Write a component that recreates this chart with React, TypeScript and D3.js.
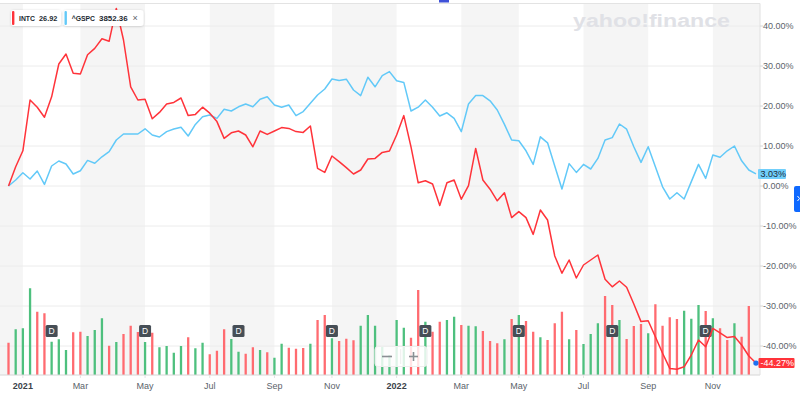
import * as d3 from 'd3'

// weekly bars, Monday of each week
const firstWeek = '2020-12-21'
const lastWeek = '2022-12-19'

// % change since first week
const intcChange = [
  0, 4.8, 8.8, 21.5, 19.7, 17.2, 22.3, 30.5, 33, 28.2,
  28.0, 32.8, 34.4, 36.8, 36.2, 44.4, 36.5, 24.8, 21.5, 21.7,
  16.8, 18.4, 20.5, 20.9, 22, 17.6, 17.9, 19.7, 18.2, 16.1,
  11.9, 13.3, 13.75, 12.75, 9.8, 13.75, 12.9, 13.75, 14.6, 14.4,
  13.6, 13.4, 15, 4.4, 3.4, 7.5, 6.1, 4.6, 3, 4,
  6.75, 6.9, 8.4, 8.75, 12.75, 17.6, 9.8, 0.8, 1.3, 0.5,
  -4.9, 0.8, 1.5, -3.3, 0.1, 9.4, 1.5, -0.8, -3.7, -1.7,
  -7.9, -6.4, -7.9, -12.1, -6, -8.5, -17.5, -21.8, -18.5, -23,
  -19.75, -18.5, -17.25, -23.3, -25.2, -23.75, -25.3, -29.5, -33.9, -33.7,
  -37.7, -41.8, -45.6, -45.8, -45.2, -42.25, -38.5, -40.2, -35.6, -36.7,
  -37.9, -37.6, -39.75, -42.5, -44.27
]

const gspcChange = [
  0, 1.5, 3.3, 1.75, 3.75, 0.4, 5, 6.25, 5.5, 3,
  3.8, 6.4, 5.7, 7.3, 8.6, 11.5, 13, 13, 13, 14.3,
  12.75, 12.25, 13.6, 14.25, 14.7, 12.5, 15.4, 17.3, 17.75, 16.9,
  19.2, 18.75, 19.8, 20.5, 19.8, 21.7, 22.3, 20.25, 19.7, 20.25,
  17.6, 18.6, 20.7, 22.75, 24.25, 26.75, 26.4, 26.7, 24, 22.6,
  27.2, 24.8, 27.6, 28.6, 26.3, 25.9, 18.75, 19.7, 21.5, 19.7,
  17.5, 18.3, 16.9, 13.6, 20.5, 22.6, 22.6, 21.3, 19, 15.4,
  11.5, 11.3, 8.8, 5.4, 12.3, 10.8, 5, -0.75, 5.6, 3.4,
  5.4, 4.25, 6.9, 11.5, 12.1, 15.5, 14.2, 9.8, 5.9, 9.8,
  4.8, -0.2, -3.25, -1.7, -3.25, 1.1, 5.4, 1.9, 7.75, 7.2,
  8.8, 10, 6.3, 4, 3.03
]

// INTC weekly volume, millions of shares
const intcVolume = [
  129, 183, 187, 347, 253, 247, 133, 143, 100, 171,
  173, 156, 180, 227, 117, 132, 164, 197, 172, 132,
  169, 111, 116, 89, 116, 151, 107, 129, 83, 97,
  183, 144, 93, 85, 111, 100, 91, 69, 125, 109,
  105, 108, 125, 220, 240, 147, 136, 145, 139, 197,
  240, 197, 116, 80, 220, 189, 149, 340, 213, 173,
  213, 220, 233, 200, 197, 195, 176, 136, 127, 143,
  224, 240, 216, 173, 151, 140, 207, 253, 143, 180,
  124, 164, 207, 316, 280, 220, 144, 196, 204, 167,
  283, 197, 231, 224, 257, 225, 280, 256, 227, 187,
  140, 207, 153, 276
]

const dividendDates = [
  '2021-02-05', '2021-05-06', '2021-08-05', '2021-11-05',
  '2022-02-04', '2022-05-05', '2022-08-04', '2022-11-04'
]

const tickDates = [
  '2020-11-02', '2021-01-04', '2021-03-01', '2021-05-03', '2021-07-05', '2021-09-06', '2021-11-01',
  '2022-01-03', '2022-03-07', '2022-05-02', '2022-07-04', '2022-09-05', '2022-11-07', '2023-01-02'
]
const tickLabels = ['', '2021', 'Mar', 'May', 'Jul', 'Sep', 'Nov', '2022', 'Mar', 'May', 'Jul', 'Sep', 'Nov', '2023']

const yTicks = [40, 30, 20, 10, 0, -10, -20, -30, -40]

const intcLabel = { symbol: 'INTC', price: '26.92' }
const gspcLabel = { symbol: '^GSPC', price: '3852.36' }

const RED = '#ff333a'
const BLUE = '#62c9f8'
const VOL_GREEN = '#4ec07e'
const VOL_RED = '#ff6b70'
const FONT = '"Liberation Sans", Arial, sans-serif'

export default function App() {
  const width = 800
  const height = 397
  const plotRight = 760
  const baseY = 375

  const parse = d3.timeParse('%Y-%m-%d')
  const weeks = d3.timeMonday.range(parse(firstWeek)!, d3.timeDay.offset(parse(lastWeek)!, 1))

  const x = d3.scaleTime()
    .domain([weeks[0], weeks[weeks.length - 1]])
    .range([8.5, 756])
  const y = d3.scaleLinear().domain([-40, 40]).range([346, 26])
  const yVol = d3.scaleLinear().domain([0, 400]).range([baseY, baseY - 100])

  const line = d3.line<number>()
    .x((_, i) => x(weeks[i]))
    .y(d => y(d))

  const ticks = tickDates.map((d, i) => ({ x: x(parse(d)!), label: tickLabels[i] }))
  // shaded every other two-month block
  const bands = ticks.slice(0, -1)
    .map((t, i) => ({ x0: t.x, x1: ticks[i + 1].x, on: i % 2 === 0 }))
    .filter(b => b.on)

  const lastIntc = intcChange[intcChange.length - 1]
  const lastGspc = gspcChange[gspcChange.length - 1]
  const lastX = x(weeks[weeks.length - 1])

  return (
    <div>
      <style>{`body{margin:0}`}</style>
      <svg width={width} height={height} style={{ display: 'block', fontFamily: FONT }}>
        <defs>
          <clipPath id="plot-clip">
            <rect x={0} y={0} width={plotRight} height={height} />
          </clipPath>
          <filter id="pill-shadow" x="-20%" y="-40%" width="140%" height="180%">
            <feDropShadow dx="0" dy="0.5" stdDeviation="0.8" floodColor="#000" floodOpacity="0.18" />
          </filter>
        </defs>

        <rect width={width} height={height} fill="#fff" />

        <g clipPath="url(#plot-clip)">
          {bands.map((b, i) => (
            <rect key={i} x={b.x0} y={3} width={b.x1 - b.x0} height={baseY - 3} fill="#f5f5f5" />
          ))}
          {yTicks.map(v => (
            <line key={v} x1={0} x2={plotRight} y1={y(v)} y2={y(v)} stroke="#ececec" />
          ))}
        </g>

        <line x1={0} x2={plotRight} y1={3.5} y2={3.5} stroke="#e3e3e3" />
        <rect x={439} y={0} width={10} height={2.5} fill="#3f51d8" />

        <text x={573} y={27} fontSize={18} fontWeight={700} fill="#e0e1e6"
          textLength={157} lengthAdjust="spacingAndGlyphs">yahoo!finance</text>

        {/* volume */}
        <g>
          {intcVolume.map((v, i) => (
            <rect key={i}
              x={x(weeks[i]) - 1.15}
              y={yVol(v)}
              width={2.3}
              height={baseY - yVol(v)}
              fill={i > 0 && intcChange[i] >= intcChange[i - 1] ? VOL_GREEN : VOL_RED} />
          ))}
        </g>

        {dividendDates.map(d => {
          const cx = x(d3.timeMonday.floor(parse(d)!))
          return (
            <g key={d}>
              <rect x={cx - 6} y={325} width={12} height={12} rx={1.5} fill="#464e56" />
              <text x={cx} y={334.3} textAnchor="middle" fontSize={8.5} fill="#fff">D</text>
            </g>
          )
        })}

        <path d={line(gspcChange)!} fill="none" stroke={BLUE} strokeWidth={1.5} strokeLinejoin="round" />
        <path d={line(intcChange)!} fill="none" stroke={RED} strokeWidth={1.5} strokeLinejoin="round" />
        <circle cx={lastX} cy={y(lastIntc)} r={2.7} fill="#1e6ff0" />

        {/* zoom control */}
        <g>
          <rect x={375} y={346.5} width={52} height={20} rx={3} fill="#fff" fillOpacity={0.82} stroke="#eeeeee" />
          <line x1={400.7} x2={400.7} y1={349} y2={364} stroke="#eeeeee" />
          <line x1={382} x2={392} y1={356.5} y2={356.5} stroke="#8a8f94" strokeWidth={1.6} />
          <line x1={409} x2={418} y1={356.5} y2={356.5} stroke="#8a8f94" strokeWidth={1.6} />
          <line x1={413.5} x2={413.5} y1={352} y2={361} stroke="#8a8f94" strokeWidth={1.6} />
        </g>

        {/* bottom axis */}
        <line x1={0} x2={plotRight} y1={baseY} y2={baseY} stroke="#d6d6d6" />
        <g clipPath="url(#plot-clip)">
          {ticks.filter(t => t.label).map((t, i) => {
            const isYear = /^\d{4}$/.test(t.label)
            return (
              <g key={i}>
                <line x1={t.x} x2={t.x} y1={baseY} y2={baseY + 3} stroke="#e3e3e3" />
                <text x={t.x} y={389} textAnchor="middle" fontSize={9}
                  fontWeight={isYear ? 700 : 400} fill={isYear ? '#3b4249' : '#5b636a'}>{t.label}</text>
              </g>
            )
          })}
        </g>

        {/* right axis */}
        <line x1={plotRight} x2={plotRight} y1={3.5} y2={baseY} stroke="#e0e0e0" />
        {yTicks.map(v => (
          <g key={v}>
            <line x1={plotRight} x2={plotRight + 3} y1={y(v)} y2={y(v)} stroke="#d6d6d6" />
            <text x={763} y={y(v) + 3.2} fontSize={9} fill="#5b636a">{`${v.toFixed(2)}%`}</text>
          </g>
        ))}

        <rect x={758} y={y(lastGspc) - 5} width={28} height={10} rx={1} fill="#71cffb" />
        <text x={760.5} y={y(lastGspc) + 3.2} fontSize={9} fill="#1d2b38">{`${lastGspc.toFixed(2)}%`}</text>
        <rect x={758.5} y={y(lastIntc) - 5} width={36} height={10} rx={1} fill={RED} />
        <text x={760.5} y={y(lastIntc) + 3.2} fontSize={9} fill="#fff">{`${lastIntc.toFixed(2)}%`}</text>

        <rect x={794} y={186} width={10} height={26} rx={2} fill="#0f69ff" />
        <path d="M797.5 196 l2 2.5 l-2 2.5" fill="none" stroke="#fff" strokeWidth={1} />

        {/* legend */}
        <g filter="url(#pill-shadow)">
          <rect x={11} y={10} width={50} height={16} rx={3} fill="#fff" />
          <rect x={63.5} y={10} width={80} height={16} rx={3} fill="#fff" />
        </g>
        <rect x={12} y={11} width={2.4} height={14} rx={1} fill={RED} />
        <text x={19} y={20.8} fontSize={8} fontWeight={600} fill="#232a31"
          textLength={16} lengthAdjust="spacingAndGlyphs">{intcLabel.symbol}</text>
        <text x={39} y={20.8} fontSize={8} fontWeight={600} fill="#232a31"
          textLength={18.3} lengthAdjust="spacingAndGlyphs">{intcLabel.price}</text>
        <rect x={64.5} y={11} width={2.4} height={14} rx={1} fill={BLUE} />
        <text x={71.7} y={20.8} fontSize={8} fontWeight={600} fill="#232a31"
          textLength={23.3} lengthAdjust="spacingAndGlyphs">{gspcLabel.symbol}</text>
        <text x={99} y={20.8} fontSize={8} fontWeight={600} fill="#232a31"
          textLength={28.7} lengthAdjust="spacingAndGlyphs">{gspcLabel.price}</text>
        <text x={132.5} y={21} fontSize={9} fill="#5b636a">×</text>
      </svg>
    </div>
  )
}
